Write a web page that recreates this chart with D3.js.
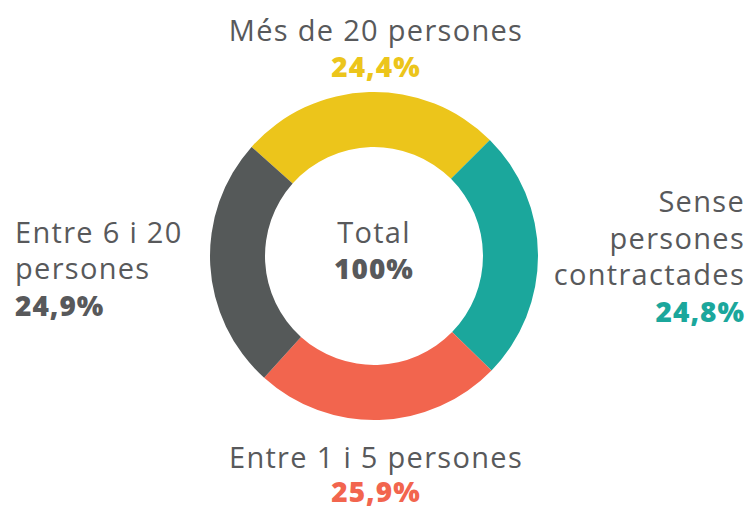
<!DOCTYPE html>
<html>
<head>
<meta charset="utf-8">
<script src="https://cdn.jsdelivr.net/npm/d3@7"></script>
<style>
  html, body { margin: 0; padding: 0; background: #fff; }
  svg text { font-family: "Open Sans", "Noto Sans", sans-serif; }
</style>
</head>
<body>
<div id="chart"></div>
<script>
/* DATA */
var categories = ['Més de 20 persones', 'Sense persones contractades', 'Entre 1 i 5 persones', 'Entre 6 i 20 persones'];
// slice sizes as drawn in the picture (arc spans)
var sliceShares = [25.9, 24.8, 24.4, 24.9];
// percentages as printed on the labels
var labelPct = ['24,4%', '24,8%', '25,9%', '24,9%'];
var labelLines = [['Més de 20 persones'], ['Sense', 'persones', 'contractades'], ['Entre 1 i 5 persones'], ['Entre 6 i 20', 'persones']];
var colors = ['#ecc51b', '#1ba79c', '#f2654e', '#555959'];
var centerTitle = 'Total';
var centerValue = '100%';

var width = 751, height = 510;
var cx = 374, cy = 256;
var outerR = 164, innerR = 109;
var textColor = '#58595b';
var lineH = 36.6;

var svg = d3.select('#chart').append('svg')
    .attr('width', width)
    .attr('height', height);

var g = svg.append('g')
    .attr('transform', 'translate(' + cx + ',' + cy + ')');

var pie = d3.pie()
    .sort(null)
    .startAngle(-48.3 * Math.PI / 180)
    .endAngle(-48.3 * Math.PI / 180 + 2 * Math.PI)
    .value(function(d) { return d; });

var arc = d3.arc()
    .innerRadius(innerR)
    .outerRadius(outerR);

g.selectAll('path.slice')
    .data(pie(sliceShares))
    .enter().append('path')
    .attr('class', 'slice')
    .attr('d', arc)
    .style('fill', function(d, i) { return colors[i]; });

function plain(sel) {
    return sel.style('font-size', '29px')
        .style('letter-spacing', '1.3px')
        .style('fill', textColor);
}
function bold(sel, col) {
    return sel.style('font-size', '28px')
        .style('font-weight', 800)
        .style('letter-spacing', '1px')
        .style('fill', col);
}

// center text
plain(g.append('text')
    .attr('y', -13.3)
    .attr('text-anchor', 'middle'))
    .text(centerTitle);

bold(g.append('text')
    .attr('y', 23.3)
    .attr('text-anchor', 'middle'), textColor)
    .text(centerValue);

// label placement: [x, first baseline, anchor, pct line gap]
var labelPos = [
    [376, 40.7, 'middle', lineH],
    [745, 212, 'end', lineH],
    [376, 467.5, 'middle', 34.5],
    [15, 242.7, 'start', lineH]
];

categories.forEach(function(c, i) {
    var p = labelPos[i];
    var lines = labelLines[i];
    var t = svg.append('g').attr('class', 'label');
    lines.forEach(function(line, j) {
        plain(t.append('text')
            .attr('x', p[0])
            .attr('y', p[1] + j * lineH)
            .attr('text-anchor', p[2]))
            .text(line);
    });
    bold(t.append('text')
        .attr('x', p[0])
        .attr('y', p[1] + (lines.length - 1) * lineH + p[3])
        .attr('text-anchor', p[2]), i == 3 ? textColor : colors[i])
        .text(labelPct[i]);
});
</script>
</body>
</html>
